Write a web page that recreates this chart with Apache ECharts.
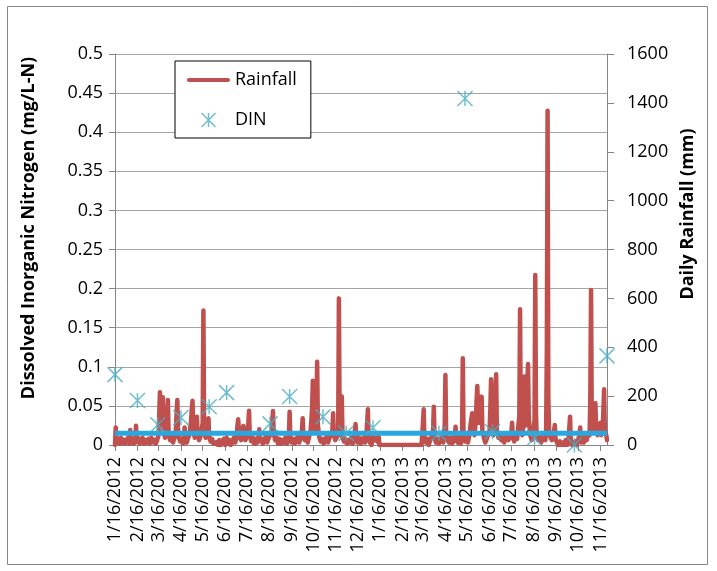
<!DOCTYPE html>
<html>
<head>
<meta charset="utf-8">
<title>DIN and daily rainfall</title>
<script src="https://cdn.jsdelivr.net/npm/echarts@6/dist/echarts.min.js"></script>
<style>
  html, body { margin: 0; padding: 0; background: #fff; }
  #chart { width: 717px; height: 571px; }
</style>
</head>
<body>
<div id="chart"></div>
<script>
// x axis tick labels (monthly, on the 16th)
const tickLabels = [
  '1/16/2012', '2/16/2012', '3/16/2012', '4/16/2012', '5/16/2012', '6/16/2012',
  '7/16/2012', '8/16/2012', '9/16/2012', '10/16/2012', '11/16/2012', '12/16/2012',
  '1/16/2013', '2/16/2013', '3/16/2013', '4/16/2013', '5/16/2013', '6/16/2013',
  '7/16/2013', '8/16/2013', '9/16/2013', '10/16/2013', '11/16/2013'
]
const axisStart = '1/16/2012'
const axisEnd = '11/25/2013'

// DIN samples (mg/L-N)
const dinDates = [
  '2012-01-16', '2012-02-16', '2012-03-15', '2012-04-16', '2012-05-25', '2012-06-18',
  '2012-08-17', '2012-09-13', '2012-10-29', '2012-11-30', '2013-01-06', '2013-04-07',
  '2013-05-13', '2013-06-20', '2013-08-17', '2013-10-11', '2013-11-25'
]
const dinValues = [
  0.090, 0.057, 0.026, 0.035, 0.049, 0.067,
  0.027, 0.062, 0.036, 0.015, 0.022, 0.015,
  0.443, 0.017, 0.009, 0.000, 0.114
]
// horizontal reference level (mg/L-N)
const dinLevel = 0.015

// daily rainfall (mm)
const rainfall = [
  ['2012-01-16', 0], ['2012-01-17', 72], ['2012-01-18', 10], ['2012-01-20', 25], ['2012-01-22', 5], ['2012-01-24', 30], ['2012-01-26', 8], ['2012-01-28', 22], ['2012-01-30', 5],
  ['2012-02-01', 18], ['2012-02-03', 30], ['2012-02-05', 5], ['2012-02-06', 61], ['2012-02-07', 10], ['2012-02-09', 25], ['2012-02-11', 5], ['2012-02-13', 20], ['2012-02-14', 79], ['2012-02-15', 12], ['2012-02-17', 28], ['2012-02-19', 5], ['2012-02-21', 15], ['2012-02-23', 30], ['2012-02-25', 5], ['2012-02-27', 20], ['2012-02-29', 10],
  ['2012-03-02', 25], ['2012-03-04', 5], ['2012-03-06', 30], ['2012-03-08', 12], ['2012-03-10', 22], ['2012-03-12', 5], ['2012-03-14', 18], ['2012-03-16', 40], ['2012-03-17', 120], ['2012-03-18', 216], ['2012-03-19', 150], ['2012-03-20', 90], ['2012-03-21', 140], ['2012-03-22', 195], ['2012-03-23', 60], ['2012-03-25', 30], ['2012-03-27', 45], ['2012-03-28', 120], ['2012-03-29', 184], ['2012-03-30', 40],
  ['2012-04-01', 20], ['2012-04-03', 35], ['2012-04-05', 10], ['2012-04-07', 28], ['2012-04-09', 60], ['2012-04-10', 130], ['2012-04-11', 184], ['2012-04-12', 70], ['2012-04-13', 30], ['2012-04-15', 15], ['2012-04-17', 25], ['2012-04-19', 5], ['2012-04-20', 30], ['2012-04-21', 72], ['2012-04-22', 20], ['2012-04-24', 10], ['2012-04-26', 30], ['2012-04-28', 45], ['2012-04-30', 100],
  ['2012-05-01', 150], ['2012-05-02', 181], ['2012-05-03', 60], ['2012-05-05', 30], ['2012-05-07', 70], ['2012-05-08', 116], ['2012-05-09', 40], ['2012-05-11', 20], ['2012-05-13', 35], ['2012-05-15', 40], ['2012-05-16', 90], ['2012-05-17', 550], ['2012-05-18', 60], ['2012-05-20', 30], ['2012-05-22', 45], ['2012-05-23', 80], ['2012-05-24', 109], ['2012-05-25', 30], ['2012-05-27', 15], ['2012-05-29', 25], ['2012-05-31', 5],
  ['2012-06-02', 0], ['2012-06-04', 12], ['2012-06-06', 0], ['2012-06-08', 20], ['2012-06-10', 0], ['2012-06-12', 10], ['2012-06-14', 25], ['2012-06-16', 0], ['2012-06-18', 31], ['2012-06-20', 5], ['2012-06-22', 20], ['2012-06-24', 0], ['2012-06-26', 15], ['2012-06-28', 30], ['2012-06-30', 10],
  ['2012-07-02', 40], ['2012-07-03', 80], ['2012-07-04', 105], ['2012-07-05', 60], ['2012-07-06', 30], ['2012-07-08', 20], ['2012-07-10', 45], ['2012-07-11', 78], ['2012-07-12', 60], ['2012-07-14', 20], ['2012-07-16', 35], ['2012-07-18', 90], ['2012-07-19', 140], ['2012-07-20', 40], ['2012-07-22', 15], ['2012-07-24', 30], ['2012-07-26', 5], ['2012-07-28', 25], ['2012-07-30', 10],
  ['2012-08-01', 30], ['2012-08-02', 64], ['2012-08-03', 15], ['2012-08-05', 25], ['2012-08-07', 5], ['2012-08-09', 20], ['2012-08-11', 35], ['2012-08-13', 10], ['2012-08-15', 28], ['2012-08-17', 40], ['2012-08-19', 50], ['2012-08-20', 90], ['2012-08-21', 139], ['2012-08-22', 50], ['2012-08-24', 20], ['2012-08-26', 30], ['2012-08-28', 5], ['2012-08-30', 25],
  ['2012-09-01', 5], ['2012-09-03', 20], ['2012-09-05', 10], ['2012-09-07', 30], ['2012-09-09', 5], ['2012-09-11', 15], ['2012-09-12', 40], ['2012-09-13', 136], ['2012-09-14', 30], ['2012-09-16', 10], ['2012-09-18', 25], ['2012-09-20', 5], ['2012-09-22', 20], ['2012-09-24', 35], ['2012-09-26', 10], ['2012-09-28', 25], ['2012-09-30', 60],
  ['2012-10-01', 109], ['2012-10-02', 40], ['2012-10-04', 20], ['2012-10-06', 30], ['2012-10-08', 10], ['2012-10-10', 35], ['2012-10-12', 60], ['2012-10-13', 102], ['2012-10-14', 150], ['2012-10-15', 263], ['2012-10-16', 120], ['2012-10-18', 60], ['2012-10-20', 150], ['2012-10-21', 341], ['2012-10-22', 80], ['2012-10-24', 30], ['2012-10-26', 15], ['2012-10-28', 25], ['2012-10-30', 5],
  ['2012-11-01', 20], ['2012-11-03', 35], ['2012-11-05', 10], ['2012-11-07', 28], ['2012-11-09', 40], ['2012-11-11', 60], ['2012-11-12', 130], ['2012-11-13', 45], ['2012-11-15', 20], ['2012-11-17', 30], ['2012-11-19', 50], ['2012-11-20', 600], ['2012-11-21', 90], ['2012-11-22', 40], ['2012-11-24', 198], ['2012-11-25', 30], ['2012-11-27', 15], ['2012-11-29', 25],
  ['2012-12-01', 5], ['2012-12-03', 20], ['2012-12-05', 10], ['2012-12-07', 30], ['2012-12-09', 5], ['2012-12-11', 25], ['2012-12-13', 86], ['2012-12-14', 20], ['2012-12-16', 10], ['2012-12-18', 30], ['2012-12-20', 5], ['2012-12-22', 15], ['2012-12-24', 30], ['2012-12-26', 10], ['2012-12-28', 40], ['2012-12-30', 146], ['2012-12-31', 20],
  ['2013-01-02', 10], ['2013-01-04', 0], ['2013-01-06', 33], ['2013-01-08', 20], ['2013-01-10', 30], ['2013-01-12', 15], ['2013-01-14', 33], ['2013-01-15', 0],
  ['2013-03-14', 0], ['2013-03-15', 40], ['2013-03-16', 90], ['2013-03-17', 146], ['2013-03-18', 30], ['2013-03-20', 10], ['2013-03-22', 25], ['2013-03-24', 0], ['2013-03-26', 20], ['2013-03-28', 35], ['2013-03-30', 60], ['2013-03-31', 157],
  ['2013-04-01', 30], ['2013-04-03', 10], ['2013-04-05', 25], ['2013-04-07', 5], ['2013-04-09', 20], ['2013-04-11', 35], ['2013-04-13', 10], ['2013-04-15', 80], ['2013-04-16', 286], ['2013-04-17', 40], ['2013-04-19', 20], ['2013-04-21', 10], ['2013-04-23', 30], ['2013-04-25', 5], ['2013-04-27', 15], ['2013-04-29', 40], ['2013-04-30', 75],
  ['2013-05-01', 20], ['2013-05-03', 10], ['2013-05-05', 30], ['2013-05-07', 5], ['2013-05-09', 40], ['2013-05-10', 355], ['2013-05-11', 30], ['2013-05-13', 15], ['2013-05-15', 30], ['2013-05-17', 10], ['2013-05-19', 40], ['2013-05-21', 90], ['2013-05-22', 110], ['2013-05-23', 130], ['2013-05-24', 60], ['2013-05-26', 40], ['2013-05-28', 100], ['2013-05-29', 180], ['2013-05-30', 241], ['2013-05-31', 150],
  ['2013-06-01', 90], ['2013-06-03', 120], ['2013-06-04', 170], ['2013-06-05', 198], ['2013-06-06', 60], ['2013-06-08', 30], ['2013-06-10', 10], ['2013-06-12', 25], ['2013-06-14', 40], ['2013-06-16', 60], ['2013-06-17', 150], ['2013-06-18', 269], ['2013-06-19', 80], ['2013-06-21', 40], ['2013-06-23', 120], ['2013-06-24', 220], ['2013-06-25', 290], ['2013-06-26', 60], ['2013-06-28', 30], ['2013-06-30', 45],
  ['2013-07-02', 20], ['2013-07-04', 35], ['2013-07-06', 10], ['2013-07-08', 30], ['2013-07-10', 40], ['2013-07-12', 20], ['2013-07-14', 35], ['2013-07-16', 50], ['2013-07-17', 91], ['2013-07-18', 30], ['2013-07-20', 15], ['2013-07-22', 40], ['2013-07-24', 25], ['2013-07-26', 30], ['2013-07-27', 120], ['2013-07-28', 555], ['2013-07-29', 80], ['2013-07-31', 40],
  ['2013-08-01', 60], ['2013-08-02', 150], ['2013-08-03', 280], ['2013-08-04', 190], ['2013-08-05', 80], ['2013-08-06', 150], ['2013-08-07', 240], ['2013-08-08', 331], ['2013-08-09', 120], ['2013-08-11', 40], ['2013-08-13', 20], ['2013-08-15', 30], ['2013-08-17', 100], ['2013-08-18', 696], ['2013-08-19', 120], ['2013-08-20', 40], ['2013-08-22', 20], ['2013-08-24', 35], ['2013-08-26', 10], ['2013-08-28', 25], ['2013-08-30', 40],
  ['2013-09-01', 20], ['2013-09-02', 60], ['2013-09-03', 400], ['2013-09-04', 1368], ['2013-09-05', 200], ['2013-09-06', 60], ['2013-09-08', 30], ['2013-09-10', 20], ['2013-09-12', 40], ['2013-09-14', 82], ['2013-09-15', 25], ['2013-09-17', 10], ['2013-09-19', 0], ['2013-09-21', 15], ['2013-09-23', 0], ['2013-09-25', 10], ['2013-09-27', 0], ['2013-09-29', 20],
  ['2013-10-01', 0], ['2013-10-03', 30], ['2013-10-04', 70], ['2013-10-05', 116], ['2013-10-06', 20], ['2013-10-08', 0], ['2013-10-10', 0], ['2013-10-12', 15], ['2013-10-14', 0], ['2013-10-16', 20], ['2013-10-18', 40], ['2013-10-19', 72], ['2013-10-20', 10], ['2013-10-22', 30], ['2013-10-24', 10], ['2013-10-26', 40], ['2013-10-28', 20], ['2013-10-30', 50],
  ['2013-11-01', 40], ['2013-11-02', 200], ['2013-11-03', 634], ['2013-11-04', 80], ['2013-11-06', 50], ['2013-11-08', 90], ['2013-11-09', 171], ['2013-11-10', 60], ['2013-11-12', 40], ['2013-11-14', 60], ['2013-11-16', 91], ['2013-11-17', 40], ['2013-11-19', 60], ['2013-11-20', 140], ['2013-11-21', 228], ['2013-11-22', 60], ['2013-11-24', 40], ['2013-11-25', 20]
]

const FONT = 'Open Sans'
const AXIS_GREY = '#868686'
const RED = '#c0504d'
const ASTERISK = 'path://M0,0L14,14M14,0L0,14M7,0L7,14'

// 'M/D/YYYY' -> timestamp
const toTime = (s) => {
  const [m, d, y] = s.split('/').map(Number)
  return Date.UTC(y, m - 1, d)
}
// 'YYYY-MM-DD' -> timestamp
const isoTime = (s) => {
  const [y, m, d] = s.split('-').map(Number)
  return Date.UTC(y, m - 1, d)
}
const tickTimes = tickLabels.map(toTime)
const xMin = toTime(axisStart)
const xMax = toTime(axisEnd)

const chart = echarts.init(document.getElementById('chart'))

const option = {
  animation: false,
  backgroundColor: '#fff',
  grid: { left: 115, right: 110, top: 54, bottom: 126 },
  legend: {
    orient: 'vertical',
    left: 175,
    top: 61,
    padding: [10, 14, 9, 12],
    itemGap: 22,
    itemWidth: 43,
    itemHeight: 14,
    borderColor: '#000',
    borderWidth: 1,
    backgroundColor: '#fff',
    textStyle: { fontFamily: FONT, fontSize: 18, color: '#000' },
    data: [
      { name: 'Rainfall', icon: 'path://M2,0H41A2,2 0 0 1 41,4H2A2,2 0 0 1 2,0Z', itemStyle: { color: RED } },
      { name: 'DIN', itemStyle: { color: 'rgba(0,0,0,0)', borderColor: '#4bacc6', borderWidth: 1.5 } }
    ]
  },
  xAxis: {
    type: 'value',
    min: xMin,
    max: xMax,
    splitLine: { show: false },
    axisLine: { lineStyle: { color: AXIS_GREY, width: 1 } },
    axisTick: { show: true, customValues: tickTimes, length: 6, lineStyle: { color: AXIS_GREY } },
    axisLabel: {
      customValues: tickTimes,
      rotate: 90,
      margin: 12,
      color: '#000',
      fontFamily: FONT,
      fontSize: 18,
      formatter: (v) => {
        const d = new Date(v)
        return (d.getUTCMonth() + 1) + '/' + d.getUTCDate() + '/' + d.getUTCFullYear()
      }
    }
  },
  yAxis: [
    {
      type: 'value',
      position: 'left',
      min: 0,
      max: 0.5,
      interval: 0.05,
      axisLine: { show: true, lineStyle: { color: AXIS_GREY } },
      axisTick: { show: true, length: 6, lineStyle: { color: AXIS_GREY } },
      splitLine: { lineStyle: { color: '#a6a6a6', width: 1 } },
      axisLabel: { color: '#000', fontFamily: FONT, fontSize: 18, margin: 12 }
    },
    {
      type: 'value',
      position: 'right',
      min: 0,
      max: 1600,
      interval: 200,
      axisLine: { show: true, lineStyle: { color: AXIS_GREY } },
      axisTick: { show: true, length: 7, lineStyle: { color: AXIS_GREY } },
      splitLine: { show: false },
      axisLabel: { color: '#000', fontFamily: FONT, fontSize: 18, margin: 20, formatter: (v) => String(v) }
    }
  ],
  graphic: [
    {
      type: 'rect',
      silent: true,
      shape: { x: 7.5, y: 6.5, width: 700, height: 558 },
      style: { fill: 'none', stroke: AXIS_GREY, lineWidth: 1 }
    },
    {
      type: 'text',
      x: 29,
      y: 228,
      rotation: Math.PI / 2,
      style: {
        text: 'Dissolved Inorganic Nitrogen (mg/L-N)',
        fontFamily: FONT, fontSize: 18, fontWeight: 'bold', fill: '#000',
        align: 'center', verticalAlign: 'middle'
      }
    },
    {
      type: 'text',
      x: 688,
      y: 214,
      rotation: Math.PI / 2,
      style: {
        text: 'Daily Rainfall (mm)',
        fontFamily: FONT, fontSize: 18, fontWeight: 'bold', fill: '#000',
        align: 'center', verticalAlign: 'middle'
      }
    }
  ],
  series: [
    {
      name: 'Rainfall',
      type: 'line',
      yAxisIndex: 1,
      data: rainfall.map(([d, v]) => [isoTime(d), v]),
      symbol: 'none',
      lineStyle: { color: RED, width: 4.5, cap: 'round', join: 'round' },
      itemStyle: { color: RED },
      z: 2
    },
    {
      name: 'level',
      type: 'line',
      yAxisIndex: 0,
      data: [[xMin, dinLevel], [xMax, dinLevel]],
      symbol: 'none',
      silent: true,
      lineStyle: { color: '#29a8e0', width: 5 },
      z: 3
    },
    {
      name: 'DIN',
      type: 'scatter',
      yAxisIndex: 0,
      data: dinDates.map((d, i) => [isoTime(d), dinValues[i]]),
      symbol: ASTERISK,
      symbolSize: 15,
      itemStyle: { color: 'rgba(0,0,0,0)', borderColor: '#4bacc6', borderWidth: 1.5 },
      z: 10
    }
  ]
}

chart.setOption(option)
</script>
</body>
</html>
